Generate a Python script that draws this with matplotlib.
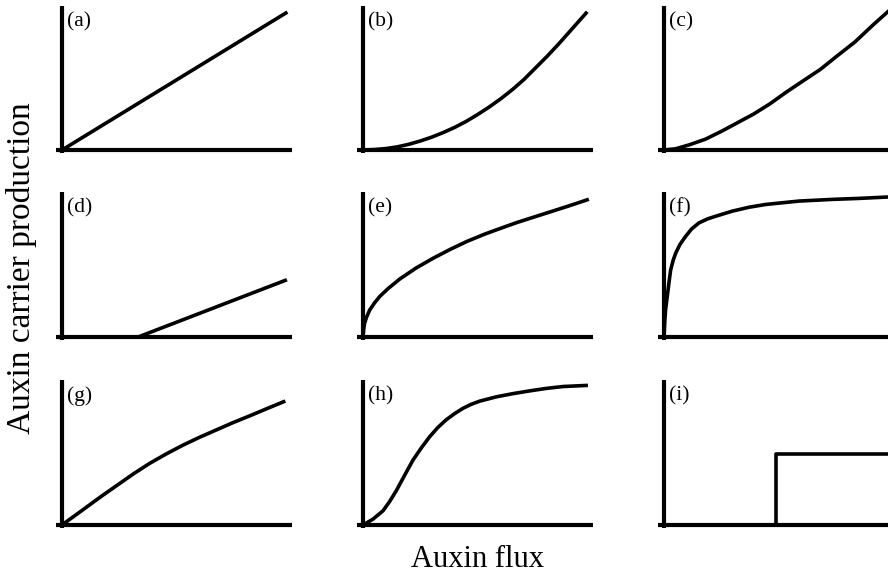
"""Auxin carrier production as a function of auxin flux, nine response shapes."""

import matplotlib.pyplot as plt

# Curve samples, x and y normalised to the axis length
a_x = [0.0, 0.98]
a_y = [0.0, 0.958]

b_x = [0.0, 0.05, 0.10, 0.15, 0.20, 0.25, 0.30, 0.35, 0.40, 0.45, 0.50,
       0.55, 0.60, 0.65, 0.70, 0.75, 0.80, 0.85, 0.90, 0.95, 0.975]
b_y = [0.0, 0.003, 0.010, 0.022, 0.040, 0.063, 0.090, 0.122, 0.158, 0.200, 0.248,
       0.300, 0.357, 0.420, 0.490, 0.570, 0.650, 0.735, 0.825, 0.915, 0.960]

c_x = [0.0, 0.05, 0.11, 0.18, 0.25, 0.32, 0.39, 0.46, 0.53, 0.60, 0.68,
       0.75, 0.83, 0.91, 0.98]
c_y = [0.0, 0.008, 0.036, 0.075, 0.130, 0.190, 0.250, 0.320, 0.400, 0.475, 0.560,
       0.650, 0.750, 0.870, 0.970]

d_x = [0.0, 0.331, 0.978]
d_y = [0.0, 0.0, 0.395]

e_x = [0.0, 0.003, 0.007, 0.015, 0.029, 0.05, 0.073, 0.11, 0.16, 0.23, 0.307,
       0.38, 0.453, 0.53, 0.599, 0.67, 0.745, 0.82, 0.891, 0.982]
e_y = [0.0, 0.055, 0.095, 0.135, 0.186, 0.235, 0.28, 0.335, 0.40, 0.475, 0.545,
       0.605, 0.66, 0.71, 0.75, 0.79, 0.828, 0.866, 0.902, 0.95]

f_x = [0.0, 0.003, 0.007, 0.014, 0.022, 0.029, 0.04, 0.051, 0.07, 0.094, 0.12,
       0.152, 0.19, 0.225, 0.297, 0.37, 0.442, 0.587, 0.732, 0.85, 0.98]
f_y = [0.0, 0.10, 0.19, 0.278, 0.38, 0.463, 0.53, 0.579, 0.64, 0.694, 0.745,
       0.787, 0.815, 0.833, 0.868, 0.895, 0.914, 0.9375, 0.949, 0.956, 0.966]

g_x = [0.0, 0.03, 0.091, 0.164, 0.236, 0.308, 0.381, 0.453, 0.525, 0.598,
       0.670, 0.742, 0.815, 0.887, 0.971]
g_y = [0.0, 0.035, 0.105, 0.19, 0.27, 0.35, 0.425, 0.49, 0.55, 0.605,
       0.655, 0.705, 0.752, 0.80, 0.855]

h_x = [0.0, 0.043, 0.087, 0.115, 0.145, 0.18, 0.217, 0.255, 0.29, 0.325, 0.362,
       0.40, 0.435, 0.47, 0.507, 0.58, 0.652, 0.725, 0.797, 0.87, 0.978]
h_y = [0.0, 0.04, 0.098, 0.16, 0.237, 0.34, 0.447, 0.535, 0.609, 0.672, 0.726,
       0.77, 0.805, 0.832, 0.854, 0.884, 0.906, 0.925, 0.942, 0.955, 0.963]

i_x = [0.0, 0.485, 0.485, 1.0]
i_y = [0.0, 0.0, 0.493, 0.493]

labels = ["(a)", "(b)", "(c)", "(d)", "(e)", "(f)", "(g)", "(h)", "(i)"]
curves = [(a_x, a_y), (b_x, b_y), (c_x, c_y),
          (d_x, d_y), (e_x, e_y), (f_x, f_y),
          (g_x, g_y), (h_x, h_y), (i_x, i_y)]

FIG_W, FIG_H = 888, 573
plt.rcParams["font.family"] = ["Liberation Serif", "DejaVu Serif"]

fig = plt.figure(figsize=(FIG_W / 100, FIG_H / 100), dpi=100)

# Pixel positions of the spines (left spine x, bottom spine y, top y)
col_left = [62, 363, 664]
row_bottom = [150, 337, 525]
row_top = [6, 192, 380]
axis_len = 230
x_over = 6  # bottom spine sticks out left of the y axis
y_over = 3  # y axis sticks out below the bottom spine

for k, (label, (xs, ys)) in enumerate(zip(labels, curves)):
    r, c = divmod(k, 3)
    left = col_left[c] - x_over
    bottom = row_bottom[r] + y_over
    width = axis_len + x_over
    height = row_bottom[r] - row_top[r] + y_over
    ax = fig.add_axes([left / FIG_W, 1 - bottom / FIG_H, width / FIG_W, height / FIG_H])

    ax.plot(xs, ys, color="black", lw=2.6, solid_joinstyle="round",
            solid_capstyle="butt", clip_on=False)

    ax.set_xlim(-x_over / axis_len, 1.0)
    ax.set_ylim(-y_over / (row_bottom[r] - row_top[r]), 1.0)
    for side in ["top", "right"]:
        ax.spines[side].set_visible(False)
    for side in ["left", "bottom"]:
        ax.spines[side].set_position(("data", 0))
        ax.spines[side].set_linewidth(3.0)
        ax.spines[side].set_capstyle("butt")
    ax.set_xticks([])
    ax.set_yticks([])
    ax.patch.set_alpha(0)

    ax.annotate(label, xy=(0, 1), xycoords="data", xytext=(3.5, -4.5),
                textcoords="offset points", ha="left", va="top", fontsize=15.5)

fig.text(22 / FIG_W, 1 - 268 / FIG_H, "Auxin carrier production",
         rotation=90, ha="center", va="center", fontsize=24)
fig.text(477 / FIG_W, (FIG_H - 567) / FIG_H, "Auxin flux",
         ha="center", va="baseline", fontsize=22)

fig.savefig("out.png", dpi=100, facecolor="white")
